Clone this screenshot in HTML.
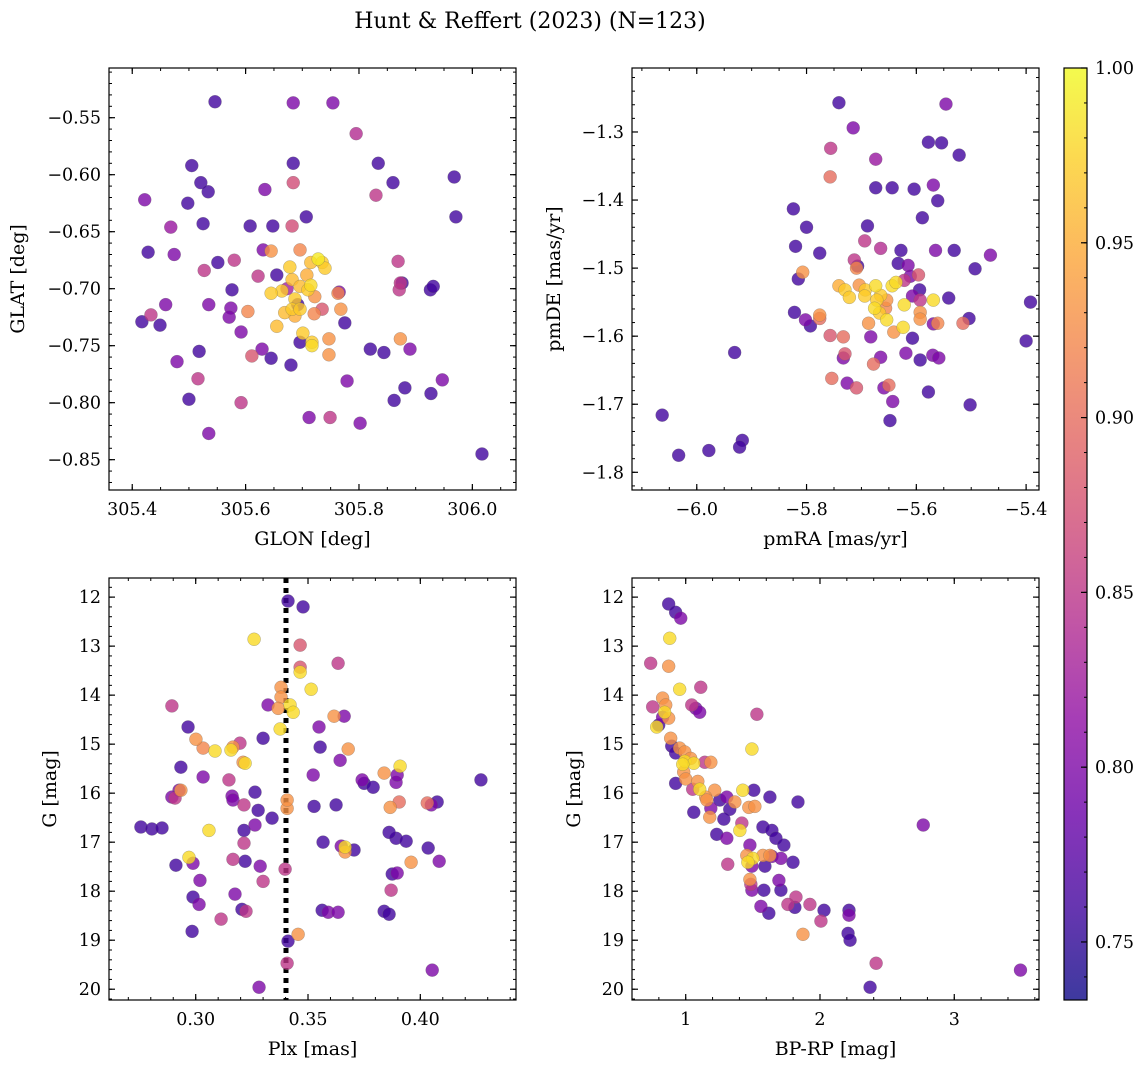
<!DOCTYPE html>
<html><head><meta charset="utf-8"><style>
html,body{margin:0;padding:0;background:#fff;}
svg{display:block;font-family:"DejaVu Serif","Liberation Serif",serif;}
</style></head><body>
<svg id="fig" width="1148" height="1067" viewBox="0 0 1148 1067" xmlns="http://www.w3.org/2000/svg">
<text x="530" y="28" font-size="22" text-anchor="middle">Hunt &amp; Reffert (2023) (N=123)</text>
</svg>
<script>
// Panel 1: GLON vs GLAT
const glon=[305.546,305.684,305.754,305.795,305.422,305.505,305.521,305.534,305.498,305.684,305.684,305.834,305.860,305.830,305.968,305.971,305.428,305.468,305.474,305.525,305.634,305.608,305.648,305.707,305.631,305.682,305.580,305.551,305.527,305.622,305.645,305.655,305.678,305.696,305.715,305.735,305.728,305.740,305.682,305.708,305.673,305.687,305.696,305.664,305.715,305.722,305.692,305.645,305.576,305.535,305.459,305.449,305.433,305.417,305.574,305.571,305.604,305.655,305.669,305.682,305.696,305.687,305.721,305.710,305.735,305.768,305.763,305.765,305.775,305.701,305.747,305.696,305.592,305.479,305.518,305.629,305.611,305.645,305.680,305.717,305.717,305.747,305.820,305.844,305.873,305.890,305.871,305.873,305.869,305.876,305.926,305.931,305.779,305.516,305.500,305.592,305.712,305.749,305.802,305.862,305.881,305.927,305.947,305.535,306.017];
const glat=[-0.536,-0.537,-0.537,-0.564,-0.622,-0.592,-0.607,-0.615,-0.625,-0.590,-0.607,-0.590,-0.607,-0.618,-0.602,-0.637,-0.668,-0.646,-0.670,-0.643,-0.613,-0.645,-0.645,-0.637,-0.666,-0.645,-0.675,-0.677,-0.684,-0.689,-0.667,-0.688,-0.681,-0.666,-0.677,-0.677,-0.674,-0.682,-0.692,-0.688,-0.700,-0.709,-0.698,-0.702,-0.697,-0.707,-0.714,-0.704,-0.701,-0.714,-0.714,-0.732,-0.723,-0.729,-0.717,-0.725,-0.720,-0.733,-0.721,-0.718,-0.718,-0.724,-0.722,-0.701,-0.718,-0.718,-0.704,-0.703,-0.730,-0.739,-0.744,-0.747,-0.738,-0.764,-0.755,-0.753,-0.759,-0.761,-0.767,-0.750,-0.747,-0.758,-0.753,-0.756,-0.744,-0.753,-0.701,-0.695,-0.676,-0.695,-0.701,-0.698,-0.781,-0.779,-0.797,-0.800,-0.813,-0.813,-0.818,-0.798,-0.787,-0.792,-0.780,-0.827,-0.845];
const memb1=[0.76,0.80,0.80,0.84,0.80,0.76,0.76,0.76,0.76,0.76,0.87,0.76,0.76,0.85,0.76,0.76,0.76,0.82,0.80,0.76,0.80,0.76,0.76,0.76,0.80,0.87,0.85,0.76,0.85,0.85,0.93,0.76,0.97,0.92,0.96,0.97,0.99,0.97,0.96,0.95,0.83,0.97,0.96,0.97,0.98,0.93,0.76,0.97,0.76,0.80,0.80,0.76,0.85,0.76,0.80,0.80,0.92,0.96,0.96,0.97,0.97,0.95,0.92,0.97,0.88,0.93,0.92,0.80,0.76,0.97,0.93,0.76,0.80,0.80,0.76,0.80,0.88,0.76,0.76,0.98,0.97,0.93,0.76,0.76,0.93,0.80,0.85,0.85,0.85,0.76,0.76,0.76,0.80,0.85,0.76,0.85,0.80,0.85,0.80,0.76,0.76,0.76,0.80,0.80,0.76];
// Panel 2: pmRA vs pmDE
const pmra=[-5.741,-5.546,-5.756,-5.715,-5.578,-5.554,-5.522,-5.674,-5.757,-5.569,-5.561,-5.674,-5.644,-5.604,-5.589,-5.824,-5.800,-5.689,-5.694,-5.820,-5.776,-5.628,-5.615,-5.565,-5.531,-5.465,-5.493,-5.392,-5.400,-5.807,-5.815,-5.713,-5.665,-5.741,-5.730,-5.722,-5.704,-5.709,-5.707,-5.693,-5.694,-5.674,-5.665,-5.672,-5.667,-5.654,-5.644,-5.637,-5.676,-5.654,-5.656,-5.687,-5.641,-5.624,-5.622,-5.607,-5.593,-5.593,-5.593,-5.594,-5.569,-5.541,-5.569,-5.561,-5.504,-5.515,-5.611,-5.622,-5.596,-5.633,-5.776,-5.776,-5.822,-5.793,-5.802,-5.733,-5.757,-5.730,-5.733,-5.754,-5.726,-5.709,-5.678,-5.659,-5.650,-5.648,-5.643,-5.619,-5.607,-5.593,-5.570,-5.578,-5.559,-5.502,-5.931,-6.063,-6.033,-5.978,-5.917,-5.922,-5.665,-5.683];
const pmde=[-1.257,-1.259,-1.324,-1.294,-1.315,-1.316,-1.334,-1.340,-1.366,-1.378,-1.401,-1.382,-1.382,-1.384,-1.426,-1.413,-1.440,-1.438,-1.460,-1.468,-1.478,-1.474,-1.496,-1.474,-1.474,-1.481,-1.501,-1.550,-1.607,-1.506,-1.516,-1.488,-1.471,-1.526,-1.532,-1.543,-1.525,-1.500,-1.497,-1.532,-1.541,-1.526,-1.540,-1.547,-1.566,-1.547,-1.526,-1.521,-1.559,-1.576,-1.559,-1.581,-1.594,-1.587,-1.554,-1.541,-1.565,-1.547,-1.575,-1.532,-1.547,-1.544,-1.582,-1.581,-1.574,-1.581,-1.512,-1.518,-1.510,-1.493,-1.569,-1.574,-1.565,-1.585,-1.576,-1.601,-1.599,-1.626,-1.632,-1.662,-1.669,-1.676,-1.641,-1.676,-1.672,-1.724,-1.696,-1.625,-1.603,-1.635,-1.628,-1.682,-1.632,-1.701,-1.624,-1.716,-1.775,-1.768,-1.753,-1.763,-1.631,-1.601];
const memb2=[0.76,0.80,0.85,0.80,0.76,0.76,0.76,0.82,0.90,0.80,0.76,0.76,0.76,0.76,0.76,0.76,0.76,0.76,0.85,0.76,0.76,0.76,0.80,0.80,0.76,0.80,0.76,0.76,0.76,0.93,0.76,0.85,0.84,0.95,0.97,0.97,0.93,0.92,0.76,0.97,0.97,0.98,0.97,0.97,0.97,0.93,0.98,0.98,0.98,0.98,0.92,0.93,0.93,0.98,0.98,0.80,0.93,0.85,0.93,0.76,0.98,0.76,0.80,0.92,0.76,0.90,0.80,0.85,0.88,0.76,0.93,0.90,0.76,0.76,0.80,0.90,0.88,0.88,0.80,0.90,0.80,0.88,0.90,0.80,0.90,0.76,0.80,0.80,0.76,0.76,0.80,0.76,0.80,0.76,0.76,0.76,0.76,0.76,0.76,0.76,0.80,0.80];
// Panel 3: Plx vs G
const plx=[0.3411,0.3478,0.3260,0.3465,0.3465,0.3634,0.3465,0.3514,0.3380,0.3380,0.3367,0.3322,0.3420,0.3434,0.2894,0.3661,0.3616,0.3549,0.3376,0.2966,0.3001,0.3197,0.3300,0.3033,0.3086,0.3157,0.3166,0.3554,0.3679,0.3910,0.2934,0.3220,0.3211,0.3643,0.3839,0.3523,0.3741,0.3033,0.3148,0.2934,0.2926,0.3750,0.3790,0.4270,0.3892,0.3897,0.2908,0.2894,0.3162,0.3166,0.3264,0.3407,0.3407,0.3215,0.3278,0.3527,0.3625,0.3906,0.4031,0.4049,0.4075,0.3866,0.3340,0.3264,0.3059,0.2756,0.2805,0.2850,0.3215,0.3567,0.3648,0.3665,0.3665,0.3705,0.3215,0.3892,0.3937,0.3861,0.4035,0.4084,0.3959,0.2970,0.2988,0.2912,0.3166,0.3220,0.3287,0.3398,0.3897,0.3875,0.3019,0.3300,0.3175,0.2988,0.3015,0.3870,0.3206,0.3224,0.3563,0.3590,0.3634,0.3839,0.3861,0.3113,0.2984,0.3456,0.3411,0.3407,0.4053,0.3282];
const gmag3=[12.08,12.20,12.86,12.98,13.43,13.35,13.53,13.88,13.84,14.04,14.27,14.20,14.20,14.35,14.22,14.43,14.43,14.65,14.69,14.65,14.90,14.98,14.88,15.08,15.14,15.12,15.06,15.06,15.10,15.45,15.47,15.39,15.37,15.33,15.59,15.63,15.73,15.67,15.73,15.94,15.94,15.80,15.88,15.73,15.78,15.63,16.10,16.08,16.06,16.14,15.98,16.31,16.14,16.24,16.35,16.27,16.24,16.18,16.20,16.24,16.18,16.29,16.51,16.65,16.76,16.69,16.73,16.71,16.76,17.00,17.08,17.10,17.20,17.16,17.02,16.92,16.98,16.80,17.12,17.39,17.41,17.31,17.43,17.47,17.35,17.39,17.49,17.55,17.63,17.65,17.78,17.80,18.06,18.12,18.27,17.98,18.37,18.41,18.39,18.43,18.43,18.41,18.47,18.57,18.82,18.88,19.02,19.47,19.61,19.96];
const memb3=[0.76,0.76,0.98,0.88,0.88,0.85,0.98,0.98,0.93,0.93,0.93,0.80,0.98,0.98,0.85,0.80,0.93,0.80,0.98,0.76,0.93,0.85,0.76,0.92,0.98,0.98,0.93,0.76,0.93,0.98,0.76,0.98,0.93,0.80,0.93,0.80,0.80,0.80,0.85,0.93,0.80,0.76,0.76,0.76,0.80,0.80,0.85,0.80,0.80,0.80,0.76,0.93,0.93,0.85,0.76,0.76,0.76,0.90,0.90,0.80,0.76,0.93,0.76,0.80,0.98,0.76,0.76,0.76,0.76,0.76,0.80,0.98,0.93,0.76,0.85,0.76,0.76,0.76,0.76,0.80,0.93,0.98,0.80,0.76,0.85,0.76,0.80,0.85,0.80,0.76,0.80,0.85,0.80,0.76,0.80,0.85,0.76,0.85,0.76,0.80,0.80,0.76,0.76,0.85,0.76,0.93,0.76,0.85,0.80,0.80];
// Panel 4: BP-RP vs G
const bprp=[0.873,0.925,0.963,0.881,0.739,0.873,0.955,1.112,0.754,0.828,0.851,0.843,1.045,1.075,1.104,1.530,0.828,0.873,0.784,0.799,0.888,0.896,0.955,0.993,0.993,0.925,1.037,1.060,1.493,1.187,1.142,0.978,0.985,1.000,1.090,1.104,1.052,1.216,0.925,1.425,1.507,1.149,1.254,1.306,1.157,1.366,1.627,1.836,1.060,1.187,1.328,1.470,1.515,1.179,1.284,1.418,1.575,1.642,1.672,1.403,1.231,1.306,1.478,1.731,1.455,1.500,1.463,1.575,1.627,1.642,1.709,1.313,1.493,1.590,1.799,1.478,1.694,1.485,1.493,1.582,1.709,1.821,1.925,1.761,1.813,1.560,1.619,2.030,2.216,2.216,2.007,1.873,2.209,2.224,2.418,2.373,3.493,2.769];
const gmag4=[12.14,12.31,12.43,12.84,13.35,13.41,13.88,13.84,14.24,14.06,14.20,14.35,14.20,14.27,14.35,14.39,14.45,14.47,14.65,14.61,14.88,15.04,15.08,15.16,15.35,15.18,15.29,15.39,15.10,15.37,15.37,15.41,15.57,15.71,15.76,15.92,15.92,15.94,15.80,15.94,15.94,16.08,16.14,16.08,16.14,16.18,16.08,16.18,16.39,16.31,16.33,16.29,16.27,16.49,16.53,16.61,16.69,16.76,16.92,16.76,16.84,16.92,17.06,17.06,17.27,17.33,17.41,17.27,17.27,17.29,17.33,17.45,17.49,17.49,17.41,17.76,17.78,17.86,17.98,17.98,17.98,18.12,18.27,18.27,18.33,18.31,18.45,18.39,18.39,18.49,18.61,18.88,18.86,19.00,19.47,19.96,19.61,16.65];
const memb4=[0.76,0.76,0.80,0.98,0.85,0.93,0.98,0.85,0.85,0.93,0.93,0.98,0.85,0.80,0.80,0.85,0.80,0.93,0.98,0.76,0.93,0.76,0.93,0.93,0.98,0.76,0.93,0.98,0.98,0.93,0.85,0.98,0.93,0.93,0.93,0.98,0.85,0.93,0.76,0.98,0.76,0.93,0.76,0.80,0.93,0.93,0.76,0.76,0.76,0.80,0.76,0.93,0.93,0.93,0.76,0.85,0.76,0.76,0.76,0.98,0.76,0.80,0.80,0.76,0.93,0.98,0.98,0.93,0.93,0.80,0.80,0.85,0.80,0.76,0.76,0.93,0.80,0.85,0.80,0.76,0.76,0.85,0.85,0.85,0.76,0.80,0.76,0.76,0.76,0.80,0.85,0.93,0.76,0.76,0.85,0.76,0.80,0.80];
const cbTicks=[0.75,0.80,0.85,0.90,0.95,1.00];
const cbLabels=["0.75","0.80","0.85","0.90","0.95","1.00"];
const plxLine=0.3402;

const NS="http://www.w3.org/2000/svg";
const svg=document.getElementById('fig');
const VMIN=0.7334,VMAX=1.0;
const stops=[[13,8,135],[65,4,157],[106,0,168],[143,13,164],[177,42,144],[204,71,120],[225,100,98],[242,132,75],[252,166,54],[252,206,37],[240,249,33]];
function plasma(t){t=Math.max(0,Math.min(1,t));const f=t*10,i=Math.min(9,Math.floor(f)),u=f-i;const a=stops[i],b=stops[i+1];return 'rgb('+[0,1,2].map(k=>Math.round(a[k]+(b[k]-a[k])*u)).join(',')+')';}
function mk(tag,attrs,parent){const e=document.createElementNS(NS,tag);for(const k in attrs)e.setAttribute(k,attrs[k]);(parent||svg).appendChild(e);return e;}
function fmt(v,d){const s=Math.abs(v).toFixed(d);return (v<0?'\u2212':'')+s;}

function panel(o){
  const g=mk('g',{});
  
  
  const sx=v=>o.x0+(v-o.xd[0])/(o.xd[1]-o.xd[0])*(o.x1-o.x0);
  const sy=o.yinv?(v=>o.y0+(v-o.yd[0])/(o.yd[1]-o.yd[0])*(o.y1-o.y0)):(v=>o.y1-(v-o.yd[0])/(o.yd[1]-o.yd[0])*(o.y1-o.y0));
  const clip='clip-'+o.name;
  const cp=mk('clipPath',{id:clip},g);mk('rect',{x:o.x0,y:o.y0,width:o.x1-o.x0,height:o.y1-o.y0},cp);
  const pg=mk('g',{'clip-path':'url(#'+clip+')'},g);
  if(o.vline!==undefined){
    const l=mk('line',{x1:sx(o.vline),x2:sx(o.vline),y1:o.y0,y2:o.y1,stroke:'#000','stroke-width':5,'stroke-dasharray':'5,5'},pg);
    
    
  }
  const idx=o.xs.map((_,i)=>i).sort((a,b)=>o.cs[a]-o.cs[b]);
  idx.forEach(i=>{
    const c=mk('circle',{cx:sx(o.xs[i]),cy:sy(o.ys[i]),r:6.5,fill:plasma((o.cs[i]-VMIN)/(VMAX-VMIN)),'fill-opacity':0.8,stroke:'#666','stroke-opacity':0.5,'stroke-width':0.5},pg);
    
    
  });
  const eps=1e-9;
  function ticks(dom,step){const out=[];let s=Math.ceil((dom[0]-eps)/step);for(let k=s;k*step<=dom[1]+eps;k++)out.push(+(k*step).toFixed(6));return out;}
  ticks(o.xd,o.xminor).forEach(v=>{const x=sx(v);mk('line',{x1:x,x2:x,y1:o.y1,y2:o.y1-3,stroke:'#000','stroke-width':1},g);mk('line',{x1:x,x2:x,y1:o.y0,y2:o.y0+3,stroke:'#000','stroke-width':1},g);});
  ticks(o.yd,o.yminor).forEach(v=>{const y=sy(v);mk('line',{x1:o.x0,x2:o.x0+3,y1:y,y2:y,stroke:'#000','stroke-width':1},g);mk('line',{x1:o.x1,x2:o.x1-3,y1:y,y2:y,stroke:'#000','stroke-width':1},g);});
  ticks(o.xd,o.xmajor).forEach(v=>{const x=sx(v);mk('line',{x1:x,x2:x,y1:o.y1,y2:o.y1-6,stroke:'#000','stroke-width':1.2},g);mk('line',{x1:x,x2:x,y1:o.y0,y2:o.y0+6,stroke:'#000','stroke-width':1.2},g);
    const t=mk('text',{x:x,y:o.y1+25,'font-size':17.5,'text-anchor':'middle'},g);t.textContent=fmt(v,o.xdec);
    
    });
  ticks(o.yd,o.ymajor).forEach(v=>{const y=sy(v);mk('line',{x1:o.x0,x2:o.x0+6,y1:y,y2:y,stroke:'#000','stroke-width':1.2},g);mk('line',{x1:o.x1,x2:o.x1-6,y1:y,y2:y,stroke:'#000','stroke-width':1.2},g);
    const t=mk('text',{x:o.x0-8,y:y+6,'font-size':17.5,'text-anchor':'end'},g);t.textContent=fmt(v,o.ydec);
    
    });
  mk('rect',{x:o.x0,y:o.y0,width:o.x1-o.x0,height:o.y1-o.y0,fill:'none',stroke:'#000','stroke-width':1.2},g);
  const xl=mk('text',{x:(o.x0+o.x1)/2,y:o.y1+55,'font-size':19,'text-anchor':'middle'},g);xl.textContent=o.xlabel;
  
  
  const yl=mk('text',{x:0,y:0,'font-size':19,'text-anchor':'middle',transform:'translate('+o.ylx+','+((o.y0+o.y1)/2)+') rotate(-90)'},g);yl.textContent=o.ylabel;
  
  
}

panel({name:'glon-glat-panel',x0:109,x1:516,y0:68,y1:490,xd:[305.359,306.077],yd:[-0.8766,-0.5064],xs:glon,ys:glat,cs:memb1,xmajor:0.2,xminor:0.05,ymajor:0.05,yminor:0.01,xdec:1,ydec:2,xlabel:'GLON [deg]',ylabel:'GLAT [deg]',ylx:24});
panel({name:'proper-motion-panel',x0:632,x1:1039,y0:68,y1:490,xd:[-6.118,-5.3765],yd:[-1.826,-1.206],xs:pmra,ys:pmde,cs:memb2,xmajor:0.2,xminor:0.05,ymajor:0.1,yminor:0.02,xdec:1,ydec:1,xlabel:'pmRA [mas/yr]',ylabel:'pmDE [mas/yr]',ylx:560});
panel({name:'plx-g-panel',x0:109,x1:516,y0:578,y1:1000,xd:[0.2614,0.4426],yd:[11.61,20.22],yinv:true,xs:plx,ys:gmag3,cs:memb3,xmajor:0.05,xminor:0.01,ymajor:1,yminor:0.2,xdec:2,ydec:0,xlabel:'Plx [mas]',ylabel:'G [mag]',ylx:56,vline:plxLine});
panel({name:'cmd-panel',x0:632,x1:1039,y0:578,y1:1000,xd:[0.600,3.631],yd:[11.61,20.22],yinv:true,xs:bprp,ys:gmag4,cs:memb4,xmajor:1,xminor:0.2,ymajor:1,yminor:0.2,xdec:0,ydec:0,xlabel:'BP-RP [mag]',ylabel:'G [mag]',ylx:580});

(function(){
  const x0=1064,x1=1087,y0=68,y1=1000;
  const g=mk('g',{});
  
  
  const defs=mk('defs',{},g);
  const lg=mk('linearGradient',{id:'cbgrad',x1:0,y1:1,x2:0,y2:0},defs);
  for(let i=0;i<=20;i++){mk('stop',{offset:(i/20),'stop-color':plasma(i/20)},lg);}
  mk('rect',{x:x0,y:y0,width:x1-x0,height:y1-y0,fill:'url(#cbgrad)','fill-opacity':0.8},g);
  const sy=v=>y1-(v-VMIN)/(VMAX-VMIN)*(y1-y0);
  for(let v=0.74;v<=1.0001;v+=0.01){const y=sy(v);mk('line',{x1:x1,x2:x1-3,y1:y,y2:y,stroke:'#000','stroke-width':1},g);}
  cbTicks.forEach((v,i)=>{const y=sy(v);mk('line',{x1:x1,x2:x1-6,y1:y,y2:y,stroke:'#000','stroke-width':1.2},g);
    const t=mk('text',{x:x1+8,y:y+6,'font-size':17.5},g);t.textContent=cbLabels[i];
    
    });
  mk('rect',{x:x0,y:y0,width:x1-x0,height:y1-y0,fill:'none',stroke:'#000','stroke-width':1.2},g);
})();
</script>
</body></html>
